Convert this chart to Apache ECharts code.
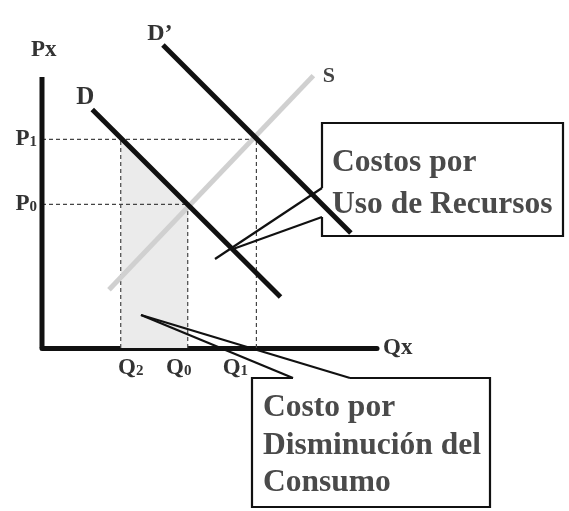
<!DOCTYPE html>
<html><head><meta charset="utf-8">
<script src="https://cdn.jsdelivr.net/npm/echarts@6/dist/echarts.min.js"></script>
<style>html,body{margin:0;padding:0;background:#fff}#c{width:569px;height:511px}</style>
</head><body><div id="c"></div>
<script>
// ---- data ----
const xTickValues = [2.35, 4.35, 6.4];      // Q2, Q0, Q1
const xTickLabels = ['Q2', 'Q0', 'Q1'];
const yTickValues = [5.3, 7.7];             // P0, P1
const yTickLabels = ['P0', 'P1'];
const demandD  = [[1.5, 8.8], [7.12, 1.88]];
const demandD2 = [[3.61, 11.18], [9.22, 4.24]];
const supplyS  = [[2.0, 2.15], [8.1, 10.05]];
const curveNames = ['D', 'D\u2019', 'S'];
const calloutTexts = [['Costos por', 'Uso de Recursos'], ['Costo por', 'Disminuci\u00f3n del', 'Consumo']];

// ---- styling ----
const SERIF = '"Liberation Serif", "Times New Roman", serif';
const xLabelShift = [10, -9, -21];   // hand-placed label shifts in the original (px)
const [Q2, Q0, Q1] = xTickValues;
const [P0, P1] = yTickValues;

function richLabel(s, shift) {
  const sh = shift || 0;
  const head = sh > 0 ? '{pad' + (2 * sh) + '|}' : '';
  const tail = sh < 0 ? '{pad' + (-2 * sh) + '|}' : '';
  return head + '{b|' + s.charAt(0) + '}{s|' + s.slice(1) + '}' + tail;
}
function lookup(vals, labs, v, shifts) {
  for (let i = 0; i < vals.length; i++) if (Math.abs(vals[i] - v) < 1e-6) return richLabel(labs[i], shifts ? shifts[i] : 0);
  return '';
}
const rich = {
  b: { fontFamily: SERIF, fontWeight: 'bold', fontSize: 23, color: '#333' },
  s: { fontFamily: SERIF, fontWeight: 'bold', fontSize: 15, color: '#333', verticalAlign: 'bottom', padding: [0, 0, 1, 0] }
};
xLabelShift.forEach(s => { const w = Math.abs(2 * s); rich['pad' + w] = { width: w, fontSize: 1 }; });

const dashSegs = [
  [[0, P1], [Q1, P1]],
  [[0, P0], [Q0, P0]],
  [[Q2, 0], [Q2, P1]],
  [[Q0, 0], [Q0, P0]],
  [[Q1, 0], [Q1, P1]]
];

const lblStyle = { fontFamily: SERIF, fontWeight: 'bold', fontSize: 24, color: '#333' };
const hiddenSym = { symbol: 'circle', symbolSize: 1, showSymbol: true, itemStyle: { color: 'rgba(0,0,0,0)', borderWidth: 0 } };

const series = [];
series.push({
  type: 'line', data: [[Q2, P1], [Q0, P0]], symbol: 'none', silent: true,
  lineStyle: { width: 0 }, areaStyle: { color: '#ebebeb', opacity: 1 }, z: 1
});
dashSegs.forEach(seg => series.push({
  type: 'line', data: seg, symbol: 'none', silent: true, z: 2,
  lineStyle: { color: '#444', width: 1.2, type: [4, 3] }
}));
series.push({
  type: 'line', data: [[0, 0], [0, 10]], symbol: 'none', silent: true, z: 6,
  lineStyle: { color: '#111', width: 5 }
});
series.push(Object.assign({
  type: 'line', clip: false, silent: true, z: 3,
  lineStyle: { color: '#d0d0d0', width: 5 },
  data: [{ value: supplyS[0] }, { value: supplyS[1],
    label: Object.assign({ show: true, formatter: curveNames[2], position: 'right', distance: 5, offset: [4, 1] }, lblStyle, { color: '#444', fontSize: 22 }) }]
}, hiddenSym));
series.push(Object.assign({
  type: 'line', clip: false, silent: true, z: 4,
  lineStyle: { color: '#111', width: 5 },
  data: [{ value: demandD[0], label: Object.assign({ show: true, formatter: curveNames[0], position: 'top', distance: 5, offset: [-7, 6] }, lblStyle, { fontSize: 25 }) }, { value: demandD[1] }]
}, hiddenSym));
series.push(Object.assign({
  type: 'line', clip: false, silent: true, z: 4,
  lineStyle: { color: '#111', width: 5 },
  data: [{ value: demandD2[0], label: Object.assign({ show: true, formatter: curveNames[1], position: 'top', distance: 5, offset: [-3, 6] }, lblStyle) }, { value: demandD2[1] }]
}, hiddenSym));

const option = {
  animation: false,
  backgroundColor: '#fff',
  grid: { left: 42, right: 192, top: 77, bottom: 163 },
  xAxis: {
    type: 'value', min: 0, max: 10,
    name: 'Qx', nameLocation: 'end', nameGap: 6,
    nameTextStyle: { fontFamily: SERIF, fontWeight: 'bold', fontSize: 23, color: '#333' },
    axisLine: { show: true, onZero: false, lineStyle: { color: '#111', width: 5 } },
    axisTick: { show: false }, splitLine: { show: false },
    axisLabel: { show: true, customValues: xTickValues, margin: 9,
      formatter: v => lookup(xTickValues, xTickLabels, v, xLabelShift), rich: rich }
  },
  yAxis: {
    type: 'value', min: 0, max: 10,
    name: 'Px', nameLocation: 'end', nameGap: 15,
    nameTextStyle: { fontFamily: SERIF, fontWeight: 'bold', fontSize: 23, color: '#333', align: 'left', padding: [0, 0, 0, -11] },
    axisLine: { show: false }, axisTick: { show: false }, splitLine: { show: false },
    axisLabel: { show: true, customValues: yTickValues, margin: 5,
      formatter: v => lookup(yTickValues, yTickLabels, v), rich: rich }
  },
  series: series
};

const chart = echarts.init(document.getElementById('c'), null, { renderer: 'canvas' });
chart.setOption(option);

// ---- callout annotations ----
const LS = { stroke: '#111', lineWidth: 2.2, fill: null };
const txt = { font: 'bold 31.5px ' + SERIF, fill: '#4a4a4a', textVerticalAlign: 'middle' };
const g = [];
g.push({ type: 'polyline', shape: { points: [[322, 188], [322, 123], [563, 123], [563, 236], [322, 236], [322, 217]] }, style: LS, z: 10 });
g.push({ type: 'line', shape: { x1: 322, y1: 188, x2: 215, y2: 259 }, style: LS, z: 10 });
g.push({ type: 'line', shape: { x1: 322, y1: 217, x2: 233, y2: 249 }, style: LS, z: 10 });
g.push({ type: 'polyline', shape: { points: [[293, 378], [252, 378], [252, 507], [490, 507], [490, 378], [350, 378]] }, style: LS, z: 10 });
g.push({ type: 'line', shape: { x1: 293, y1: 378, x2: 141, y2: 315 }, style: LS, z: 10 });
g.push({ type: 'line', shape: { x1: 350, y1: 378, x2: 141, y2: 315 }, style: LS, z: 10 });
const box1Y = [163, 205], box2Y = [408, 446, 483];
calloutTexts[0].forEach((t, i) => g.push({ type: 'text', x: 332, y: box1Y[i], style: Object.assign({ text: t }, txt), z: 11 }));
calloutTexts[1].forEach((t, i) => g.push({ type: 'text', x: 263, y: box2Y[i], style: Object.assign({ text: t }, txt), z: 11 }));
chart.setOption({ graphic: g });
</script>
</body></html>
